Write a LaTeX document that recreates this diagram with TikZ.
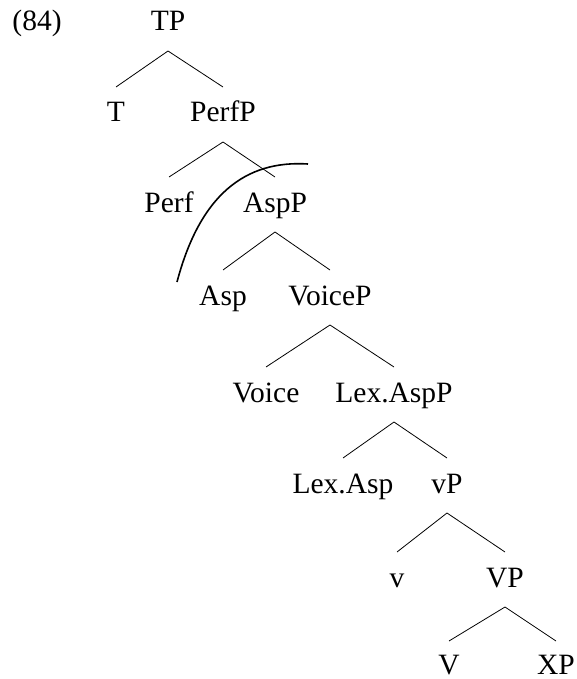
\documentclass[tikz,border=0pt]{standalone}
\usepackage{fontspec}
\setmainfont{Liberation Serif}
\begin{document}
\begin{tikzpicture}[x=1pt,y=-1pt,
  lab/.style={anchor=base, inner sep=0pt, font=\fontsize{29.5}{35}\selectfont},
  edge/.style={line width=0.8pt},
  arcline/.style={line width=1.6pt}]
\useasboundingbox (0,0) rectangle (576,679);
\node[lab] (ex) at (37,31) {(84)};
\node[lab] (TP) at (168,31) {TP};
\node[lab] (T) at (116,122) {T};
\node[lab] (PerfP) at (223,122) {PerfP};
\node[lab] (Perf) at (169,212) {Perf};
\node[lab] (AspP) at (275,212) {AspP};
\node[lab] (Asp) at (223,305) {Asp};
\node[lab] (VoiceP) at (330,305) {VoiceP};
\node[lab] (Voice) at (266,402) {Voice};
\node[lab] (LexAspP) at (394,402) {Lex.AspP};
\node[lab] (LexAsp) at (343,493) {Lex.Asp};
\node[lab] (vP) at (447,493) {vP};
\node[lab] (v) at (397,587) {v};
\node[lab] (VP) at (505,587) {VP};
\node[lab] (V) at (449,674) {V};
\node[lab] (XP) at (556,674) {XP};
\foreach \p/\l/\r in {TP/T/PerfP, PerfP/Perf/AspP, AspP/Asp/VoiceP, VoiceP/Voice/LexAspP, LexAspP/LexAsp/vP, vP/v/VP}{
  \draw[edge] ([yshift=35pt]\l.base) -- ([yshift=-20pt]\p.base) -- ([yshift=35pt]\r.base);
}
\draw[edge] ([yshift=33pt]V.base) -- ([yshift=-20pt]VP.base) -- ([yshift=33pt]XP.base);
\draw[arcline] (177,282) .. controls (200,195) and (245,160) .. (308,164);
\end{tikzpicture}
\end{document}
